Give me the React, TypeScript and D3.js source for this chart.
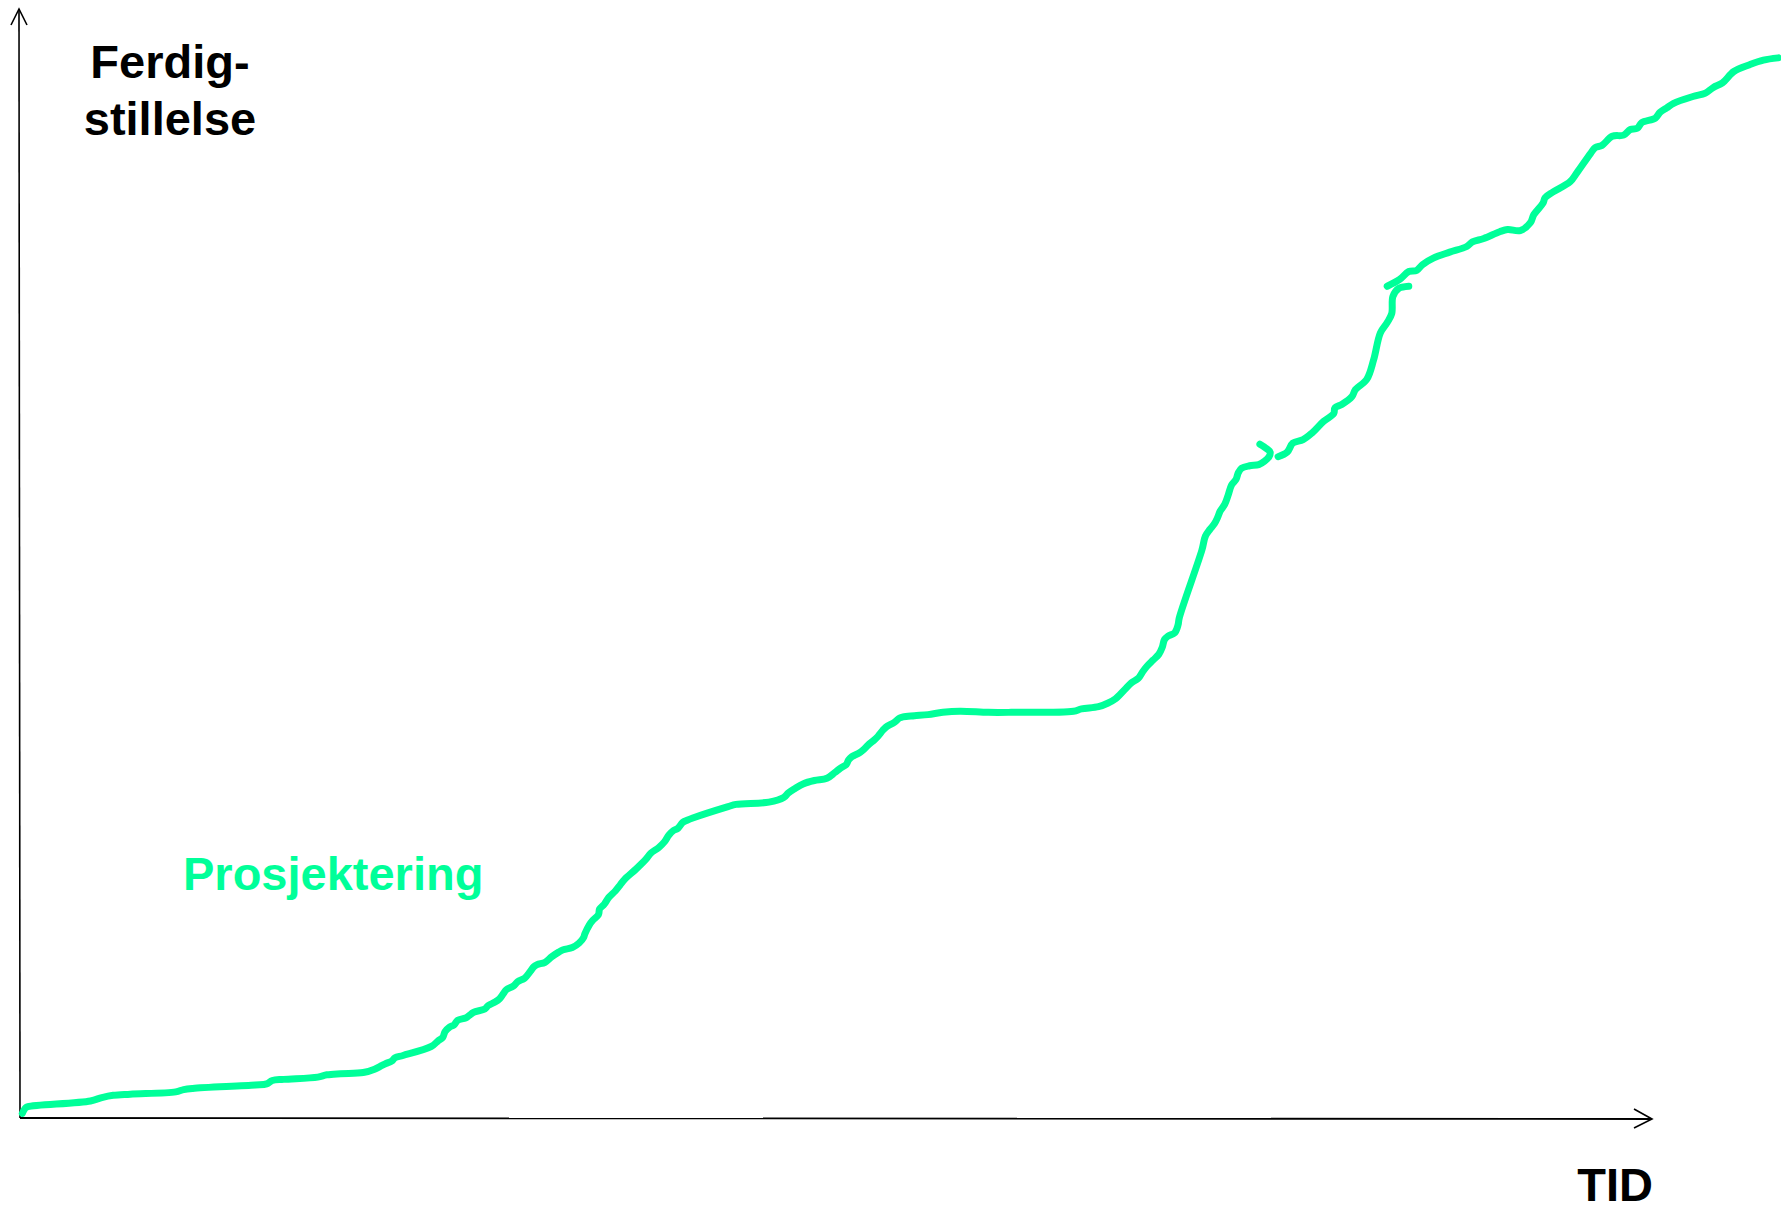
import React from "react";
import * as d3 from "d3";

// Time (x) and completion (y) in arbitrary units.
const seg1Time = [2,5,7,62,72,82,97,137,144,152,207,217,222,232,262,270,282,302,312,318,322,327,330,337,362,368,372,374,378,382,385,392,395,399,409,412,418,422,425,428,434,438,444,449,452,455,462,468,474,478,486,492,496,497,501,504,509,510,514,518,524,528,532,542,551,555,562,567,571,575,579,583,587,592,623,630,659,672,676,682,689,699,710,717,722,727,729,732,738,742,746,752,755,759,762,769,774,777,787,799,812,827,852,872,927,934,949,957,964,972,978,984,988,992,997,1002,1005,1007,1010,1016,1019,1020,1040,1043,1047,1051,1054,1056,1060,1063,1066,1070,1072,1075,1082,1090,1095,1099,1100,1097,1091];
const seg1Done = [4,9,10,15,18,20,21,23,25,26,29,30,33,34,36,38,39,40,43,46,48,50,53,55,63,68,71,76,80,82,86,88,90,93,96,99,102,105,109,113,116,120,123,129,133,135,137,142,146,148,150,154,159,162,170,174,179,184,188,194,200,205,210,219,228,233,238,243,249,253,255,260,262,264,274,276,278,282,286,290,294,297,299,304,308,311,315,318,321,324,328,333,336,341,344,348,352,353,354,355,357,358,357,357,358,360,362,365,369,377,383,387,393,398,403,408,414,421,424,427,434,440,500,512,518,523,529,534,540,548,557,562,568,572,574,575,578,582,586,589,593];

const seg2Time = [1107,1115,1120,1129,1137,1147,1156,1157,1163,1172,1175,1185,1191,1197,1203,1207,1208,1213,1222];
const seg2Done = [582,586,594,597,603,613,620,625,628,635,641,650,667,691,700,708,723,730,732];

const seg3Time = [1203,1214,1222,1229,1234,1244,1258,1273,1278,1288,1302,1309,1320,1329,1332,1340,1342,1349,1364,1370,1382,1386,1392,1401,1411,1417,1423,1427,1439,1443,1449,1455,1472,1483,1490,1498,1508,1522,1534,1547];
const seg3Done = [732,738,745,746,751,757,762,767,771,774,780,782,781,788,795,805,810,815,824,832,849,854,856,864,865,870,871,876,880,885,889,893,899,902,907,911,921,927,931,933];

const segments = [
  seg1Time.map((t, i) => [t, seg1Done[i]] as [number, number]),
  seg2Time.map((t, i) => [t, seg2Done[i]] as [number, number]),
  seg3Time.map((t, i) => [t, seg3Done[i]] as [number, number]),
];

const timeMax = 1436;
const doneMax = 976;

const yTitle = ["Ferdig-", "stillelse"];
const xTitle = "TID";
const seriesLabel = "Prosjektering";

const W = 1781;
const H = 1211;
const GREEN = "#00FF99";
const FONT = "'Liberation Sans', Arial, sans-serif";

export default function App() {
  const x = d3.scaleLinear().domain([0, timeMax]).range([20, 1652]);
  const y = d3.scaleLinear().domain([0, doneMax]).range([1118, 9]);
  const line = d3
    .line<[number, number]>()
    .x((d) => x(d[0]))
    .y((d) => y(d[1]))
    .curve(d3.curveCatmullRom.alpha(0.5));

  const x0 = x(0);
  const y0 = y(0);
  const xEnd = x(timeMax);
  const yEnd = y(doneMax);

  return (
    <svg
      width={W}
      height={H}
      style={{ position: "absolute", left: 0, top: 0, background: "#fff" }}
    >
      {/* axes */}
      <line x1={x0} y1={y0} x2={x0 - 1} y2={yEnd} stroke="#000" strokeWidth={1.6} />
      <polyline
        points={`${x0 - 9},${yEnd + 16} ${x0 - 1},${yEnd} ${x0 + 7},${yEnd + 16}`}
        fill="none"
        stroke="#000"
        strokeWidth={1.6}
      />
      <line x1={x0} y1={y0} x2={xEnd} y2={y0 + 1} stroke="#000" strokeWidth={1.8} />
      <polyline
        points={`${xEnd - 18},${y0 - 9} ${xEnd},${y0 + 1} ${xEnd - 18},${y0 + 10}`}
        fill="none"
        stroke="#000"
        strokeWidth={1.6}
      />

      {/* series */}
      {segments.map((s, i) => (
        <path
          key={i}
          d={line(s) || ""}
          fill="none"
          stroke={GREEN}
          strokeWidth={7}
          strokeLinecap="round"
          strokeLinejoin="round"
        />
      ))}

      {/* labels */}
      <text
        x={170}
        textAnchor="middle"
        fontFamily={FONT}
        fontWeight="bold"
        fontSize={47}
        fill="#000"
      >
        <tspan x={170} y={78}>{yTitle[0]}</tspan>
        <tspan x={170} y={135}>{yTitle[1]}</tspan>
      </text>
      <text
        x={1653}
        y={1201}
        textAnchor="end"
        fontFamily={FONT}
        fontWeight="bold"
        fontSize={47}
        fill="#000"
      >
        {xTitle}
      </text>
      <text
        x={183}
        y={890}
        fontFamily={FONT}
        fontWeight="bold"
        fontSize={47}
        fill={GREEN}
      >
        {seriesLabel}
      </text>
    </svg>
  );
}
